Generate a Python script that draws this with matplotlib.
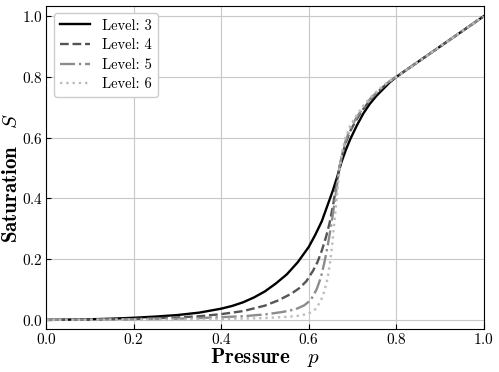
import matplotlib
matplotlib.use("Agg")
import matplotlib.pyplot as plt

plt.rcParams['mathtext.fontset'] = 'cm'
plt.rcParams['font.family'] = 'serif'
plt.rcParams['font.serif'] = ['cmr10']
plt.rcParams['axes.formatter.use_mathtext'] = True

x3 = [0, 0.05, 0.1, 0.15, 0.2, 0.25, 0.3, 0.35, 0.4, 0.425, 0.45, 0.475, 0.5, 0.525, 0.55, 0.575, 0.6,
      0.615, 0.63, 0.645, 0.655, 0.665, 0.675, 0.685, 0.695, 0.71, 0.725, 0.74, 0.755, 0.77, 0.785, 0.8, 0.9, 1.0]
s3 = [0, 0.001, 0.002, 0.004, 0.007, 0.011, 0.016, 0.024, 0.037, 0.046, 0.058, 0.074, 0.094, 0.12, 0.15, 0.19, 0.24,
      0.28, 0.325, 0.385, 0.425, 0.47, 0.52, 0.56, 0.595, 0.64, 0.68, 0.712, 0.738, 0.76, 0.782, 0.8, 0.9, 1.0]

x4 = [0, 0.1, 0.2, 0.3, 0.35, 0.4, 0.45, 0.5, 0.53, 0.56, 0.58, 0.595, 0.61, 0.62, 0.63, 0.64, 0.648, 0.656,
      0.663, 0.67, 0.677, 0.685, 0.695, 0.71, 0.725, 0.74, 0.755, 0.77, 0.785, 0.8, 0.9, 1.0]
s4 = [0, 0.001, 0.003, 0.008, 0.012, 0.019, 0.029, 0.047, 0.064, 0.086, 0.106, 0.128, 0.162, 0.19, 0.228, 0.275,
      0.32, 0.38, 0.44, 0.5, 0.545, 0.585, 0.622, 0.662, 0.695, 0.723, 0.746, 0.767, 0.785, 0.8, 0.9, 1.0]

x5 = [0, 0.2, 0.3, 0.35, 0.4, 0.45, 0.5, 0.54, 0.57, 0.59, 0.605, 0.618, 0.628, 0.636, 0.643, 0.649, 0.655, 0.66,
      0.665, 0.67, 0.677, 0.685, 0.695, 0.71, 0.725, 0.74, 0.755, 0.77, 0.785, 0.8, 0.9, 1.0]
s5 = [0, 0.002, 0.004, 0.006, 0.009, 0.012, 0.018, 0.026, 0.035, 0.048, 0.066, 0.1, 0.14, 0.19, 0.24, 0.29, 0.345,
      0.395, 0.445, 0.5, 0.55, 0.592, 0.63, 0.668, 0.7, 0.727, 0.749, 0.769, 0.786, 0.8, 0.9, 1.0]

x6 = [0, 0.3, 0.4, 0.5, 0.55, 0.58, 0.6, 0.615, 0.627, 0.636, 0.643, 0.649, 0.654, 0.658, 0.662, 0.666, 0.67,
      0.676, 0.684, 0.695, 0.71, 0.725, 0.74, 0.755, 0.77, 0.785, 0.8, 0.9, 1.0]
s6 = [0, 0.001, 0.003, 0.006, 0.01, 0.014, 0.021, 0.035, 0.06, 0.095, 0.135, 0.19, 0.25, 0.31, 0.37, 0.43, 0.49,
      0.55, 0.6, 0.64, 0.675, 0.705, 0.731, 0.752, 0.771, 0.787, 0.8, 0.9, 1.0]

labels = ['Level: 3', 'Level: 4', 'Level: 5', 'Level: 6']
ticks = [0.0, 0.2, 0.4, 0.6, 0.8, 1.0]

fig = plt.figure(figsize=(4.99, 3.72), dpi=100)
ax = fig.add_axes([0.093, 0.1156, 0.876, 0.869])

ax.plot(x3, s3, color='black', lw=1.7, ls='-', label=labels[0])
ax.plot(x4, s4, color='#555555', lw=1.7, ls='--', label=labels[1])
ax.plot(x5, s5, color='#8c8c8c', lw=1.7, ls='-.', label=labels[2])
ax.plot(x6, s6, color='#bdbdbd', lw=1.7, ls=':', label=labels[3])

ax.set_xlim(0, 1)
ax.set_ylim(-0.03, 1.035)
ax.set_xticks(ticks)
ax.set_yticks(ticks)
ax.tick_params(direction='in', labelsize=11, pad=2.5)
ax.grid(True, color='#c8c8c8', lw=0.8)
ax.set_axisbelow(True)

ax.set_xlabel(r'$\mathbf{Pressure}\quad p$', fontsize=15)
ax.set_ylabel(r'$\mathbf{Saturation}\quad S$', fontsize=15)
ax.xaxis.set_label_coords(0.5, -0.053)
ax.yaxis.set_label_coords(-0.058, 0.467)

ax.legend(loc='upper left', fontsize=10.5, handlelength=2.1, labelspacing=0.4,
          borderaxespad=0.5, framealpha=1.0)

fig.savefig('out.png', dpi=100)
